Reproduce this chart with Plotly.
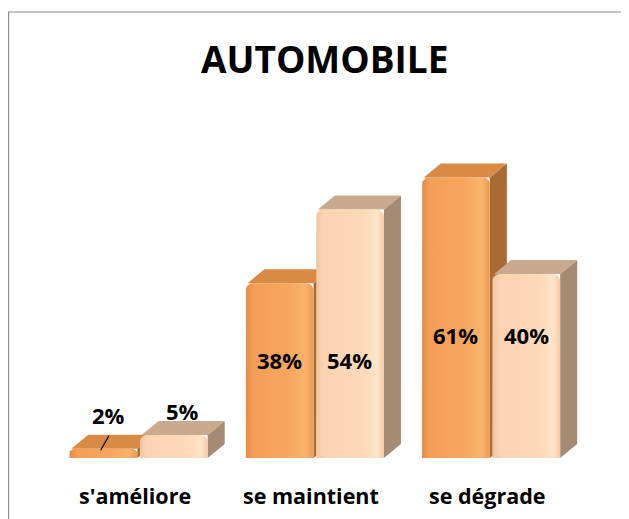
import math
import plotly.graph_objects as go

# ---------------- data ----------------
categories = ["s'améliore", "se maintient", "se dégrade"]
series_orange = [2, 38, 61]
series_peach = [5, 54, 40]
labels_orange = ["2%", "38%", "61%"]
labels_peach = ["5%", "54%", "40%"]
title_text = "AUTOMOBILE"

# ---------------- layout constants ----------------
W, H = 629, 519
OFF = 8                      # page body margin of the browser
# target plot-area edges in window pixels
WIN_LEFT, WIN_RIGHT, WIN_TOP, WIN_BASE = 33.4, 596.6, 90, 458
ML = WIN_LEFT - OFF
MR = W - (WIN_RIGHT - OFF)
MT = WIN_TOP - OFF
MB = H - (WIN_BASE - OFF)
X_RANGE = [-0.6, 2.6]
Y_RANGE = [0, 80]
PLOT_W = W - ML - MR
PLOT_H = H - MT - MB
PX_X = PLOT_W / (X_RANGE[1] - X_RANGE[0])
PX_Y = PLOT_H / (Y_RANGE[1] - Y_RANGE[0])

DX = 17 / PX_X          # 3D depth (x)
DY = 14 / PX_Y          # 3D depth (y)
BAR_W = 0.385
OFF_ORANGE = -0.393
OFF_PEACH = 0.006
RADIUS_PX = 7

FONT = "Open Sans"

styles = {
    "orange": dict(
        front=[[0, "#E38C45"], [0.12, "#F49F58"], [0.6, "#F7A55E"], [0.88, "#FAB36E"], [1, "#EC9850"]],
        top="#D98A44", side="#A96A34"),
    "peach": dict(
        front=[[0, "#EFC6A2"], [0.12, "#FBD4B1"], [0.7, "#FDD9B8"], [0.9, "#FFE4C9"], [1, "#F3CBA8"]],
        top="#C9AA8F", side="#A68B74"),
}

# label vertical placement (data units) for each bar
label_y_orange = [9.3, 21.3, 26.8]
label_y_peach = [10.3, 21.3, 26.8]


def front_poly(x0, x1, v):
    rx = RADIUS_PX / PX_X
    ry = min(RADIUS_PX / PX_Y, v * 0.45)
    xs, ys = [x0], [0]
    n = 6
    for i in range(n + 1):
        a = math.pi - (math.pi / 2) * i / n
        xs.append(x0 + rx + rx * math.cos(a))
        ys.append(v - ry + ry * math.sin(a))
    for i in range(n + 1):
        a = math.pi / 2 - (math.pi / 2) * i / n
        xs.append(x1 - rx + rx * math.cos(a))
        ys.append(v - ry + ry * math.sin(a))
    xs += [x1, x0]
    ys += [0, 0]
    return xs, ys


fig = go.Figure()


def add_bar(xc, off, v, st):
    x0 = xc + off
    x1 = x0 + BAR_W
    # side face
    fig.add_trace(go.Scatter(
        x=[x1, x1 + DX, x1 + DX, x1, x1], y=[0, DY, v + DY, v, 0],
        fill="toself", fillcolor=st["side"], mode="lines", line=dict(width=0),
        hoverinfo="skip", showlegend=False))
    # top face
    fig.add_trace(go.Scatter(
        x=[x0 + 0.01, x0 + DX + 0.01, x1 + DX, x1, x0 + 0.01],
        y=[v, v + DY, v + DY, v, v],
        fill="toself", fillcolor=st["top"], mode="lines", line=dict(width=0),
        hoverinfo="skip", showlegend=False))
    # front face
    xs, ys = front_poly(x0, x1, v)
    fig.add_trace(go.Scatter(
        x=xs, y=ys, fill="toself", mode="lines", line=dict(width=0),
        fillcolor=st["front"][2][1],
        fillgradient=dict(type="horizontal", colorscale=st["front"], start=x0, stop=x1),
        hoverinfo="skip", showlegend=False))


for i, cat in enumerate(categories):
    add_bar(i, OFF_ORANGE, series_orange[i], styles["orange"])
    add_bar(i, OFF_PEACH, series_peach[i], styles["peach"])

annotations = []
for i in range(len(categories)):
    annotations.append(dict(
        x=i + OFF_ORANGE + BAR_W / 2 + (0.03 if i == 0 else 0), y=label_y_orange[i],
        text="<b>" + labels_orange[i] + "</b>", showarrow=False,
        font=dict(family=FONT, size=22, color="black")))
    annotations.append(dict(
        x=i + OFF_PEACH + BAR_W / 2 + (0.05 if i == 0 else 0), y=label_y_peach[i],
        text="<b>" + labels_peach[i] + "</b>", showarrow=False,
        font=dict(family=FONT, size=22, color="black")))
    annotations.append(dict(
        x=i, y=0, yshift=-37, xshift=-4, text="<b>" + categories[i] + "</b>", showarrow=False,
        font=dict(family=FONT, size=21.5, color="black")))

annotations.append(dict(
    x=0.5, xref="paper", y=1 + (WIN_TOP - 58) / PLOT_H, yref="paper",
    xanchor="center", yanchor="middle", xshift=9,
    text="<b>" + title_text + "</b>", showarrow=False,
    font=dict(family=FONT, size=37, color="black")))

shapes = [
    # leader line for the smallest label
    dict(type="line", x0=-0.170, y0=4.8, x1=-0.216, y1=1.7,
         line=dict(color="black", width=1.2)),
    # chart border (extends past the visible window on right/bottom)
    dict(type="rect", xref="paper", yref="paper",
         x0=(9 - WIN_LEFT) / PLOT_W, x1=(W + 30 - WIN_LEFT) / PLOT_W,
         y0=-(H + 30 - WIN_BASE) / PLOT_H, y1=1 + (WIN_TOP - 12) / PLOT_H,
         line=dict(color="#8E8E8E", width=1.2), fillcolor="rgba(0,0,0,0)"),
]

fig.update_layout(
    width=W, height=H,
    margin=dict(l=ML, r=MR, t=MT, b=MB, pad=0),
    paper_bgcolor="white", plot_bgcolor="white",
    xaxis=dict(range=X_RANGE, visible=False, fixedrange=True),
    yaxis=dict(range=Y_RANGE, visible=False, fixedrange=True),
    annotations=annotations, shapes=shapes,
    showlegend=False,
)

fig.write_html("out.html")
